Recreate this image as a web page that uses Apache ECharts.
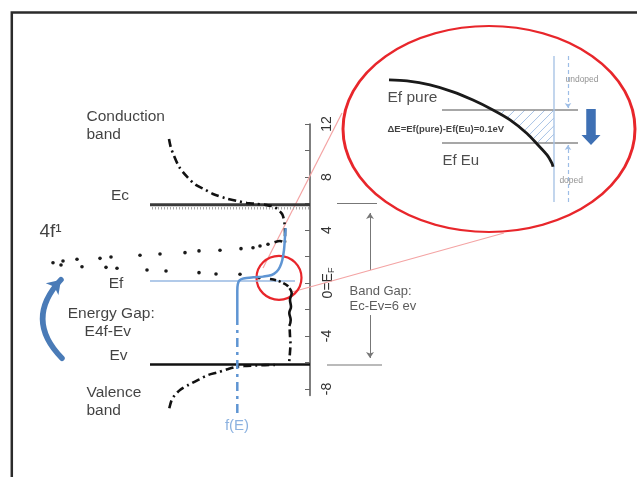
<!DOCTYPE html>
<html>
<head>
<meta charset="utf-8">
<script src="https://cdn.jsdelivr.net/npm/echarts@6/dist/echarts.min.js"></script>
<style>
  html, body { margin: 0; padding: 0; background: #fff; }
  #chart { width: 637px; height: 477px; }
</style>
</head>
<body>
<div id="chart"></div>
<script>
// ---- energy axis (eV) ----
const energyTicks = [-8, -6, -4, -2, 0, 2, 4, 6, 8, 10, 12];
const energyLabels = [-8, -4, 0, 4, 8, 12];

// band edges and Fermi level (eV)
const Ec = 5.9;
const Ev = -6.15;
const Ef = 0.15;
const bandEdgeSpan = [-160, 0];       // horizontal extent of the Ec / Ev bars
const fermiLevelSpan = [-160, -15];

// density-of-states traces: [position, energy]
const conductionDos = [[-141, 10.87], [-139, 10.17], [-137, 9.79], [-131, 8.78], [-123, 8.02], [-115, 7.45],
  [-106, 7.09], [-97, 6.72], [-84, 6.39], [-73, 6.19], [-63, 6.04], [-55, 5.98], [-45, 5.9], [-36, 5.75],
  [-31.5, 5.5], [-27.5, 5.15], [-25.5, 4.5], [-25, 3.77], [-25, 3.0], [-30, 3.17], [-37, 3.03]];
const valenceDos = [[-140.7, -9.46], [-138.3, -8.83], [-135, -8.45], [-130, -8.08], [-121.7, -7.7], [-110.7, -7.27],
  [-101.7, -6.94], [-91.7, -6.74], [-82.7, -6.51], [-73.3, -6.32], [-63.3, -6.26], [-54, -6.22], [-45, -6.2], [-35, -6.19]];
const gapDosTop = [[-40, 0.3], [-33, 0.19], [-27, 0], [-22.5, -0.2], [-20.5, -0.4]];
const gapDosMid = [[-20.5, -0.4], [-18.3, -0.75], [-20, -1.28], [-19, -1.79], [-20.7, -2.26], [-19.3, -2.79], [-20.7, -3.25]];
const gapDosLow = [[-20.3, -3.5], [-20, -4.0], [-19.5, -4.6], [-20, -5.2], [-20.5, -5.7], [-21, -6.15]];

// 4f impurity states (dotted)
const f4Upper = [[-257, 1.53], [-247, 1.66], [-233, 1.79], [-210, 1.86], [-199, 1.96], [-170, 2.09], [-150, 2.19],
  [-125, 2.29], [-111, 2.42], [-90, 2.47], [-69, 2.59], [-57, 2.66], [-50, 2.79], [-42, 2.92]];
const f4Lower = [[-249, 1.36], [-228, 1.23], [-204, 1.18], [-193, 1.11], [-163, 0.98], [-144, 0.91], [-111, 0.78],
  [-94, 0.68], [-70, 0.66], [-51, 0.4]];

// Fermi-Dirac occupation f(E)
const fermiStep = [[-72.7, -2.49], [-72.7, -0.6], [-72.2, -0.1], [-70.5, 0.2], [-66.7, 0.34], [-56.7, 0.43],
  [-46.7, 0.48], [-38.3, 0.6], [-33.3, 0.85], [-30, 1.23], [-27.7, 1.74], [-26, 2.49], [-25, 3.49], [-24.3, 4.13]];
const fermiTail = [[-72.7, -2.49], [-72.7, -9.96]];

// band gap annotation
const gapArrowUp = [[60, 0.98], [60, 5.28]];
const gapArrowDown = [[60, -2.42], [60, -5.66]];
const gapBarTop = [[27, 6.0], [67, 6.0]];
const gapBarBottom = [[17, -6.19], [72, -6.19]];

// excitation arrow from Ev to the 4f level
const excitation = [[-248, -5.68], [-249, 0.25]];

// zoom window: circled region and its connecting rays
const zoomSpot = [-31, 0.39];
const zoomRays = [[[-47, 1.13], [32, 12.83]], [[-18, -0.68], [194, 3.77]]];

// ---- inset: Fermi level shift, energy relative to Ef(pure) in eV ----
const efPure = 0;
const efEu = -0.1;
const insetLevelSpan = [99, 235];
const insetCurve = [[46, 0.091], [64, 0.088], [87, 0.076], [110, 0.055], [130, 0.03], [150, 0], [167, -0.03],
  [184, -0.071], [195, -0.106], [204, -0.136], [209, -0.162], [210, -0.172]];
const insetBoundary = [[211, 0.164], [211, -0.279]];
const insetHatch = [
  [[162, 0], [158, -0.012]], [[172, 0], [164, -0.024]], [[182, 0], [170, -0.036]],
  [[192, 0], [175.5, -0.05]], [[202, 0], [181, -0.064]], [[211, 0], [186, -0.076]],
  [[211, -0.024], [190, -0.088]], [[211, -0.048], [194, -0.1]], [[211, -0.073], [202, -0.1]]
];
const undopedArrow = [[225, 0.164], [225, 0.006]];
const dopedArrow = [[225, -0.279], [225, -0.106]];
const shiftArrowAt = [248, -0.0515];

const FONT = '"Liberation Sans", Arial, sans-serif';
const RED = '#e8262b';
const BLUE = '#5f95d3';

const chart = echarts.init(document.getElementById('chart'), null, { renderer: 'canvas' });

function note(x, y, text, o) {
  o = o || {};
  return {
    value: [x, y],
    label: {
      show: true, position: [0, 0], formatter: text,
      align: o.align || 'center', verticalAlign: 'middle',
      fontSize: o.size || 15.5, lineHeight: o.lh || 18,
      color: o.color || '#111', fontWeight: o.weight || 'normal', fontFamily: FONT
    }
  };
}

function seg(data, color, width, type, extra) {
  return Object.assign({
    type: 'line', data: data, symbol: 'none', showSymbol: false, clip: false, silent: true,
    lineStyle: { color: color, width: width, type: type || 'solid', opacity: 1 }, animation: false
  }, extra || {});
}

function strokes(data, color, width, type, extra) {
  return Object.assign({
    type: 'lines', coordinateSystem: 'cartesian2d', silent: true, animation: false, clip: false,
    symbol: ['none', 'none'],
    lineStyle: { color: color, width: width, type: type || 'solid', opacity: 1 },
    data: data.map(c => ({ coords: c }))
  }, extra || {});
}

function dots(data, extra) {
  return Object.assign({
    type: 'scatter', data: data, symbol: 'circle', silent: true, animation: false, clip: false
  }, extra || {});
}

const dashDot = [8, 4, 2, 4];

const mainSeries = [
  seg([[bandEdgeSpan[0], Ec], [bandEdgeSpan[1], Ec]], '#3a3a3a', 3),
  seg([[bandEdgeSpan[0] + 2, Ec - 0.25], [bandEdgeSpan[1], Ec - 0.25]], '#aaaaaa', 2.5, [1, 2]),
  seg([[bandEdgeSpan[0], Ev], [bandEdgeSpan[1], Ev]], '#111', 2.6),
  seg([[fermiLevelSpan[0], Ef], [fermiLevelSpan[1], Ef]], '#97b8e2', 1.5),
  seg(conductionDos, '#111', 2.6, dashDot, { smooth: 0.3 }),
  seg(valenceDos, '#111', 2.6, dashDot, { smooth: 0.3 }),
  seg(gapDosTop, '#111', 2.6, [6, 3, 2, 3], { smooth: 0.3 }),
  seg(gapDosMid, '#111', 2.6, 'solid', { smooth: 0.4 }),
  seg(gapDosLow, '#111', 2.6, dashDot, { smooth: 0.3 }),
  dots(f4Upper.concat(f4Lower), { symbolSize: 3.6, itemStyle: { color: '#1a1a1a', opacity: 1 } }),
  seg(fermiStep, BLUE, 2.5, 'solid', { smooth: 0.3 }),
  seg(fermiTail, BLUE, 2.5, [9, 5, 3, 5]),
  seg(gapBarTop, '#777', 1.2),
  seg(gapBarBottom, '#777', 1.2),
  strokes([gapArrowUp, gapArrowDown], '#777', 1, 'solid', { symbol: ['none', 'arrow'], symbolSize: 6 }),
  strokes(zoomRays, '#f4a4a4', 1.2),
  strokes([excitation], '#4a7bb7', 5.5, 'solid', { symbol: ['none', 'arrow'], symbolSize: 13 }),
  dots([zoomSpot], { symbolSize: [45, 44], itemStyle: { color: 'rgba(0,0,0,0)', borderColor: RED, borderWidth: 2.2, opacity: 1 } }),
  dots([
    note(-223, 11.85, 'Conduction\nband', { align: 'left' }),
    note(-189.5, 6.57, 'Ec'),
    note(-270, 3.8, '4f¹', { align: 'left', size: 19 }),
    note(-193.5, -0.08, 'Ef'),
    note(-198.3, -2.34, 'Energy Gap:'),
    note(-201.7, -3.72, 'E4f-Ev'),
    note(-191, -5.51, 'Ev'),
    note(-223, -9.02, 'Valence\nband', { align: 'left' }),
    note(-72.5, -10.85, 'f(E)', { color: '#6f9fd8', size: 15 }),
    note(40, -1.25, 'Band Gap:\nEc-Ev=6 ev', { align: 'left', size: 13, lh: 15.6, color: '#333' })
  ], { symbolSize: 1, itemStyle: { color: 'rgba(0,0,0,0)' } })
];
// the excitation arrow bows out to the left of its chord
mainSeries[16].lineStyle.curveness = 0.48;
mainSeries[16].lineStyle.cap = 'round';

const insetSeries = [
  // white lens backing, kept underneath the inset marks
  dots([[146, -0.0576]], { z: 1, symbolSize: [292, 206], itemStyle: { color: '#fff', borderColor: RED, borderWidth: 2.5, opacity: 1 } }),
  seg([[insetLevelSpan[0], efPure], [insetLevelSpan[1], efPure]], '#8a8a8a', 1.4),
  seg([[insetLevelSpan[0], efEu], [insetLevelSpan[1], efEu]], '#8a8a8a', 1.4),
  seg(insetBoundary, '#a9c4e6', 1.4),
  strokes(insetHatch, '#a9c4e6', 1),
  seg(insetCurve, '#1a1a1a', 2.8, 'solid', { smooth: 0.3 }),
  strokes([undopedArrow, dopedArrow], '#9dbde6', 1.2, [4, 3], { symbol: ['none', 'arrow'], symbolSize: 5 }),
  dots([shiftArrowAt], {
    symbol: 'path://M5,0 L15,0 L15,26 L20,26 L10,36 L0,26 L5,26 Z', symbolSize: [19, 36],
    itemStyle: { color: '#3e70b4', opacity: 1 }
  }),
  dots([
    note(45, 0.036, 'Ef pure', { align: 'left', size: 15.5, color: '#222' }),
    note(45, -0.0606, 'ΔE=Ef(pure)-Ef(Eu)=0.1eV', { align: 'left', size: 9.5, weight: 'bold' }),
    note(100, -0.157, 'Ef Eu', { align: 'left', size: 15, color: '#222' }),
    note(239.5, 0.091, 'undoped', { size: 8.5, color: '#777' }),
    note(228.7, -0.217, 'doped', { size: 8.5, color: '#777' })
  ], { symbolSize: 1, itemStyle: { color: 'rgba(0,0,0,0)' } })
];
insetSeries.forEach((s, i) => { s.xAxisIndex = 1; s.yAxisIndex = 1; if (i > 0) s.z = 5; });
mainSeries.forEach(s => { s.xAxisIndex = 0; s.yAxisIndex = 0; });

chart.setOption({
  animation: false,
  backgroundColor: '#fff',
  textStyle: { fontFamily: FONT },
  grid: [
    { left: 0, width: 637, top: 124, height: 271.6, outerBoundsMode: 'none', containLabel: false },
    { left: 343, width: 292, top: 27.5, height: 204.6, outerBoundsMode: 'none', containLabel: false }
  ],
  xAxis: [
    { type: 'value', gridIndex: 0, min: -310, max: 327, show: false },
    { type: 'value', gridIndex: 1, min: 0, max: 292, show: false }
  ],
  yAxis: [
    {
      // energy axis sits at position 0, i.e. 327 px in from the right edge of the grid
      type: 'value', gridIndex: 0, min: -8.5, max: 12, position: 'right', offset: -327,
      axisLine: { show: true, onZero: false, lineStyle: { color: '#555', width: 1.5 } },
      axisTick: { show: true, inside: true, length: 5, customValues: energyTicks, lineStyle: { color: '#666', width: 1 } },
      splitLine: { show: false },
      axisLabel: {
        customValues: energyLabels, rotate: 90, margin: 10, fontSize: 14, color: '#333', fontFamily: FONT,
        formatter: v => (v === 0 ? '{n|0=E}{s|F}' : String(v)),
        rich: {
          n: { fontSize: 14, color: '#333', fontFamily: FONT },
          s: { fontSize: 9, color: '#333', fontFamily: FONT, padding: [7, 0, 0, 0] }
        }
      }
    },
    { type: 'value', gridIndex: 1, min: -0.37, max: 0.25, show: false }
  ],
  graphic: [
    {
      type: 'rect', silent: true, z: 100,
      shape: { x: 11.8, y: 12.5, width: 700, height: 600 },
      style: { fill: 'none', stroke: '#2b2b2b', lineWidth: 2.5 }
    }
  ],
  series: mainSeries.concat(insetSeries)
});
</script>
</body>
</html>
